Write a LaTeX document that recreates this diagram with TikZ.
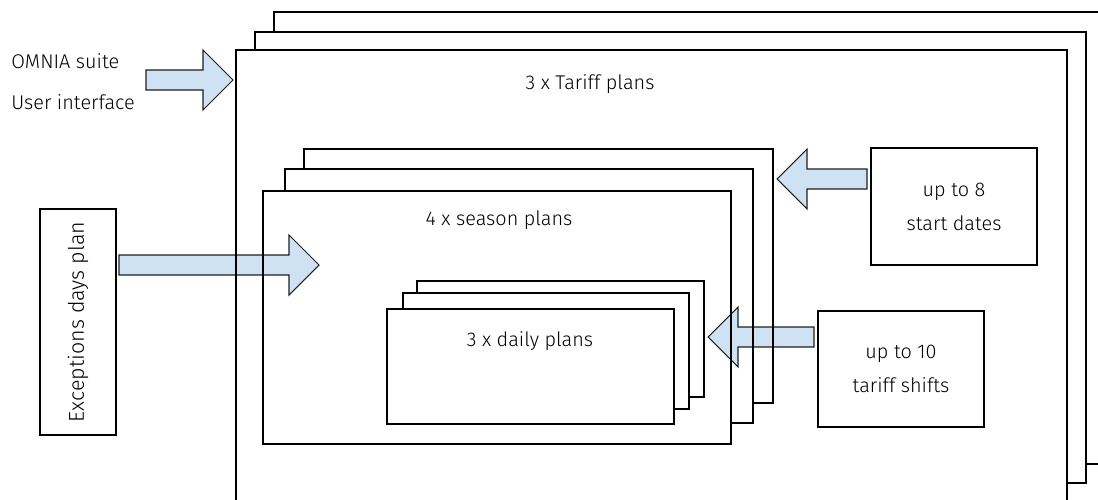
\documentclass[tikz,border=0pt]{standalone}
\usepackage{fontspec}
\setmainfont{Fira Sans}[UprightFont=* Light]
\usetikzlibrary{fit,calc}
\definecolor{arrowfill}{RGB}{207,226,243}
\definecolor{arrowline}{RGB}{30,30,30}
\tikzset{
  frame/.style={draw=black, line width=1.1pt, inner sep=0pt},
  layer/.style={draw=black, line width=1.1pt},
  bigarrow/.style={fill=arrowfill, draw=arrowline, line width=0.6pt, line join=miter},
  lbl/.style={font=\fontsize{11.3}{19.3}\selectfont, inner sep=0pt, align=center},
  biglbl/.style={lbl, font=\fontsize{12.2}{19.3}\selectfont},
}
\newcommand\blockarrowpath[3]{%
  \draw[bigarrow] ($(#1)+(0,-10)$) -- ($(#2)+(#3,-10)$) -- ($(#2)+(#3,-30)$) -- (#2)
    -- ($(#2)+(#3,30)$) -- ($(#2)+(#3,10)$) -- ($(#1)+(0,10)$) -- cycle;}
\begin{document}
\begin{tikzpicture}[x=0.02cm,y=-0.02cm]
\useasboundingbox (0,0) rectangle (1098,500);
\clip (0,0) rectangle (1098,500);

% arrow end points
\coordinate (a1tail) at (146,80);  \coordinate (a1tip) at (233,80);
\coordinate (a2tail) at (119,265); \coordinate (a2tip) at (319,265);
\coordinate (a3tail) at (867,179); \coordinate (a3tip) at (777,179);
\coordinate (a4tail) at (814,337); \coordinate (a4tip) at (708,337);

% block arrows (drawn below the outlines)
\blockarrowpath{a1tail}{a1tip}{-30}
\blockarrowpath{a2tail}{a2tip}{-30}
\blockarrowpath{a3tail}{a3tip}{30}
\blockarrowpath{a4tail}{a4tip}{30}

% tariff plans stack
\draw[layer] (274,32) -- (274,12) -- (1110,12) -- (1110,464) -- (1086,464);
\draw[layer] (255,50) -- (255,32) -- (1086,32) -- (1086,483) -- (1067,483);
\node[frame, fit={(236,50) (1067,520)}] (tariff) {};

% season plans stack
\draw[layer] (304,169) -- (304,149) -- (773,149) -- (773,403) -- (753,403);
\draw[layer] (285,191) -- (285,169) -- (753,169) -- (753,423) -- (731,423);
\node[frame, fit={(263,191) (731,444)}] (season) {};

% daily plans stack
\draw[layer] (417,293) -- (417,281) -- (704,281) -- (704,397) -- (689,397);
\draw[layer] (403,309) -- (403,293) -- (689,293) -- (689,409) -- (674,409);
\node[frame, fit={(387,309) (674,424)}] (daily) {};

% side boxes
\node[frame, fit={(871,148) (1037,265)}] (dates) {};
\node[frame, fit={(818,311) (984,427)}] (shifts) {};
\node[frame, fit={(40,209) (116,435)}] (except) {};

% labels
\node[lbl, anchor=west] (omnia) at (11,61) {OMNIA suite};
\node[lbl, anchor=west] (ui) at (11,102) {User interface};
\node[lbl] (tariffl) at (590,84) {3 x Tariff plans};
\node[lbl] (seasonl) at (499,220) {4 x season plans};
\node[lbl] (dailyl) at (530,341) {3 x daily plans};
\node[lbl] (datesl) at (dates.center) {up to 8\\start dates};
\node[lbl] (shiftsl) at (shifts.center) {up to 10\\tariff shifts};
\node[biglbl, rotate=90] (exceptl) at (except.center) {Exceptions days plan};
\end{tikzpicture}
\end{document}
